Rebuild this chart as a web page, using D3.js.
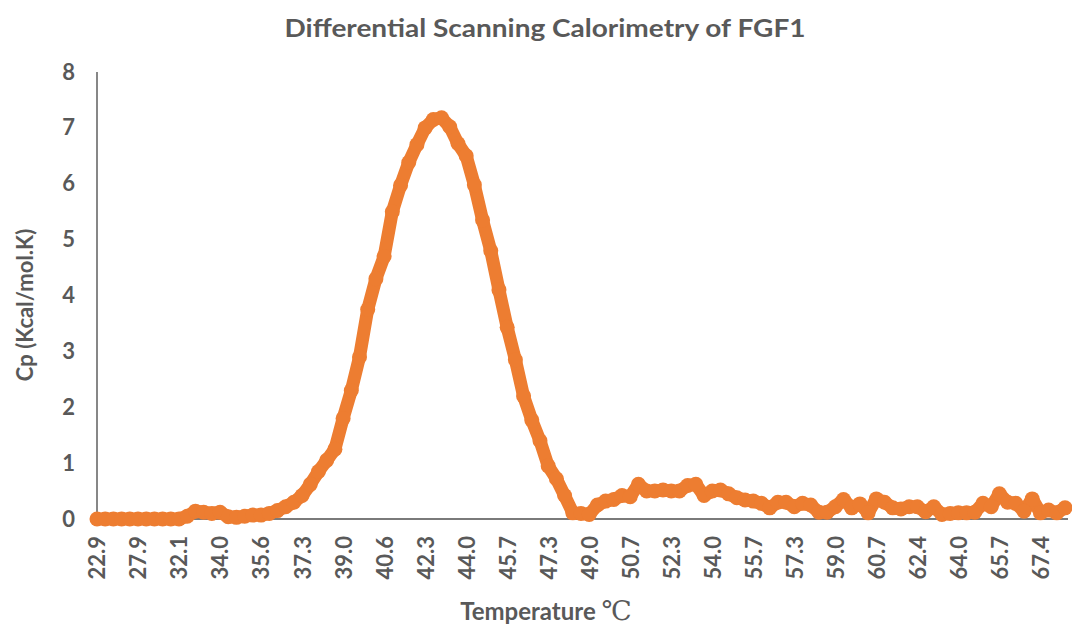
<!DOCTYPE html>
<html>
<head>
<meta charset="utf-8">
<script src="https://cdn.jsdelivr.net/npm/d3@7"></script>
<style>
  html, body { margin: 0; padding: 0; background: #ffffff; }
  svg { display: block; }
</style>
</head>
<body>
<svg id="chart" width="1072" height="631"></svg>
<script>
// Category labels shown on the x axis (one every 5 samples)
const tickLabels = ["22.9", "27.9", "32.1", "34.0", "35.6", "37.3", "39.0", "40.6",
  "42.3", "44.0", "45.7", "47.3", "49.0", "50.7", "52.3", "54.0", "55.7", "57.3",
  "59.0", "60.7", "62.4", "64.0", "65.7", "67.4"];
const samplesPerLabel = 5;

// Excess heat capacity, Cp (Kcal/mol.K), one value per sample
const cpValues = [
  0, 0, 0, 0, 0, 0, 0, 0, 0, 0,
  0, 0.05, 0.14, 0.12, 0.10, 0.12, 0.04, 0.03, 0.05, 0.07,
  0.07, 0.10, 0.15, 0.22, 0.30, 0.42, 0.62, 0.85, 1.05, 1.25,
  1.80, 2.30, 2.90, 3.75, 4.30, 4.70, 5.50, 5.97, 6.38, 6.70,
  7.00, 7.15, 7.18, 7.02, 6.72, 6.50, 5.98, 5.35, 4.80, 4.10,
  3.43, 2.85, 2.20, 1.77, 1.40, 0.95, 0.72, 0.42, 0.11, 0.10,
  0.08, 0.25, 0.32, 0.35, 0.42, 0.40, 0.62, 0.50, 0.50, 0.52,
  0.50, 0.50, 0.60, 0.62, 0.42, 0.50, 0.52, 0.45, 0.38, 0.34,
  0.32, 0.28, 0.20, 0.30, 0.30, 0.22, 0.28, 0.25, 0.12, 0.12,
  0.22, 0.35, 0.20, 0.27, 0.11, 0.36, 0.30, 0.20, 0.18, 0.22,
  0.22, 0.13, 0.22, 0.08, 0.10, 0.11, 0.11, 0.12, 0.28, 0.22,
  0.45, 0.30, 0.28, 0.14, 0.36, 0.11, 0.16, 0.11, 0.20
];

const yTicks = [0, 1, 2, 3, 4, 5, 6, 7, 8];

const textColor = "#595959";
const axisColor = "#7a7a7a";
const lineColor = "#ED7D31";
const fontFamily = "Lato, 'Open Sans', 'DejaVu Sans', sans-serif";

const svg = d3.select("#chart");
const plot = { left: 97, right: 1065, top: 72, bottom: 519 };

const x = d3.scaleLinear()
  .domain([0, cpValues.length - 1])
  .range([plot.left, plot.right]);

const y = d3.scaleLinear()
  .domain([0, 8])
  .range([plot.bottom, plot.top]);

// Title
svg.append("text")
  .attr("x", 545)
  .attr("y", 37)
  .attr("text-anchor", "middle")
  .attr("font-family", fontFamily)
  .attr("font-weight", "bold")
  .attr("font-size", 25)
  .attr("fill", textColor)
  .attr("textLength", 521)
  .attr("lengthAdjust", "spacingAndGlyphs")
  .text("Differential Scanning Calorimetry of FGF1");

// Y axis
const yAxis = d3.axisLeft(y).tickValues(yTicks).tickSize(0).tickPadding(22)
  .tickFormat(d3.format("d"));
const gy = svg.append("g")
  .attr("transform", `translate(${plot.left},0)`)
  .call(yAxis);
gy.select(".domain").attr("stroke", axisColor).attr("stroke-width", 1.8)
  .attr("d", `M0,${plot.top}V${plot.bottom}`);
gy.selectAll(".tick text")
  .attr("font-family", fontFamily)
  .attr("font-weight", "bold")
  .attr("font-size", 22)
  .attr("fill", textColor);

// X axis (category positions every 5 samples)
const xTickIdx = tickLabels.map((_, i) => i * samplesPerLabel);
const xAxis = d3.axisBottom(x).tickValues(xTickIdx).tickSize(0)
  .tickFormat((d) => tickLabels[d / samplesPerLabel]);
const gx = svg.append("g")
  .attr("transform", `translate(0,${plot.bottom})`)
  .call(xAxis);
gx.select(".domain").attr("stroke", axisColor).attr("stroke-width", 1.8)
  .attr("d", `M${plot.left},0H${plot.right + 3}`);
gx.selectAll(".tick text")
  .attr("font-family", fontFamily)
  .attr("font-weight", "bold")
  .attr("font-size", 22)
  .attr("fill", textColor)
  .attr("text-anchor", "end")
  .attr("transform", "rotate(-90)")
  .attr("x", -17)
  .attr("y", 0)
  .attr("dy", "0.36em");

// Axis titles
svg.append("text")
  .attr("transform", "translate(33,305) rotate(-90)")
  .attr("text-anchor", "middle")
  .attr("font-family", fontFamily)
  .attr("font-weight", "bold")
  .attr("font-size", 22)
  .attr("fill", textColor)
  .text("Cp (Kcal/mol.K)");

const xTitle = svg.append("text")
  .attr("x", 546)
  .attr("y", 620)
  .attr("text-anchor", "middle")
  .attr("font-family", fontFamily)
  .attr("font-weight", "bold")
  .attr("font-size", 24)
  .attr("fill", textColor);
xTitle.append("tspan").text("Temperature ");
xTitle.append("tspan")
  .attr("font-family", "'Liberation Serif', 'DejaVu Serif', serif")
  .attr("font-weight", "normal")
  .attr("font-size", 27)
  .text("\u2103");

// Thermogram trace
const data = cpValues.map((v, i) => ({ i, v }));
const line = d3.line().x((d) => x(d.i)).y((d) => y(d.v));

svg.append("path")
  .datum(data)
  .attr("fill", "none")
  .attr("stroke", lineColor)
  .attr("stroke-width", 13)
  .attr("stroke-linejoin", "round")
  .attr("stroke-linecap", "round")
  .attr("d", line);

svg.append("g")
  .selectAll("circle")
  .data(data)
  .join("circle")
  .attr("cx", (d) => x(d.i))
  .attr("cy", (d) => y(d.v))
  .attr("r", 7.5)
  .attr("fill", lineColor);
</script>
</body>
</html>
